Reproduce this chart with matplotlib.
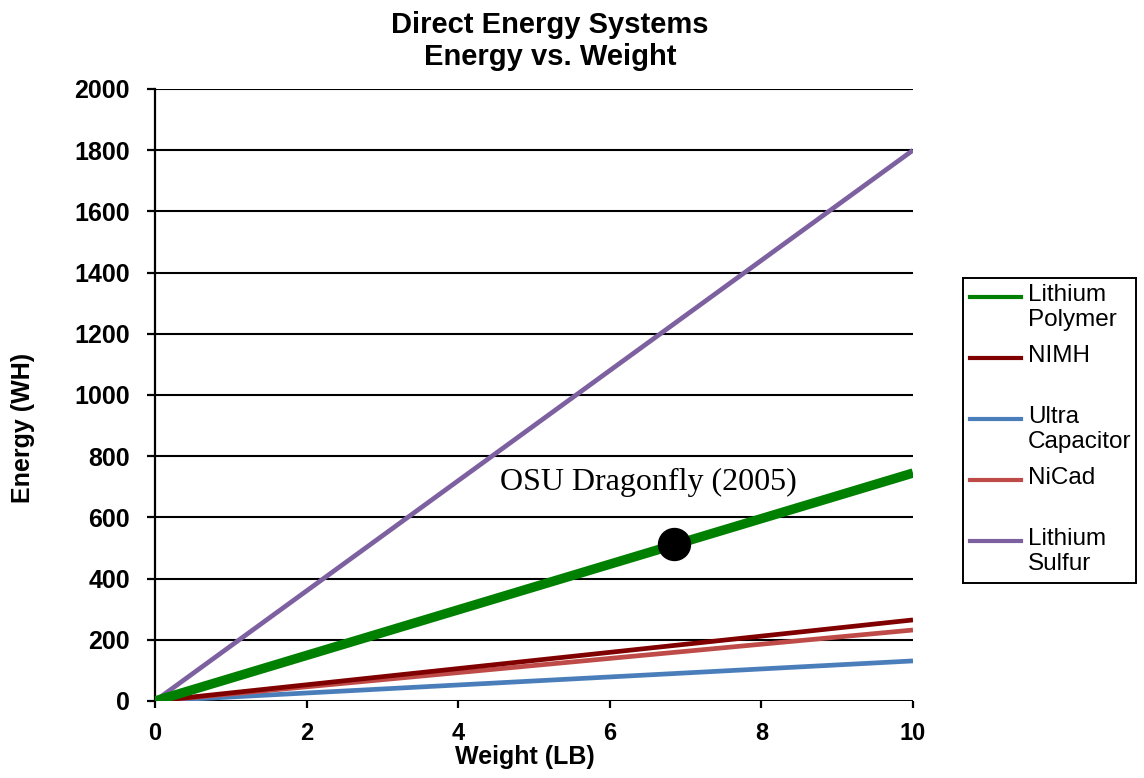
import numpy as np
import matplotlib
matplotlib.use('Agg')
import matplotlib.pyplot as plt

# energy (WH) stored per system at 0 and 10 lb
weights = [0, 10]
series_names = ['Lithium Polymer', 'NIMH', 'Ultra Capacitor', 'NiCad', 'Lithium Sulfur']
legend_labels = ['Lithium\nPolymer', 'NIMH', 'Ultra\nCapacitor', 'NiCad', 'Lithium\nSulfur']
energy_lipo = [0, 745]
energy_nimh = [0, 265]
energy_ultracap = [0, 131]
energy_nicad = [0, 232]
energy_lis = [0, 1800]
series_colors = ['#008000', '#800000', '#4A7EBB', '#BE4B48', '#7D60A0']
series_widths = [6.8, 3.4, 3.4, 3.4, 3.4]

# OSU Dragonfly (2005) data point
dragonfly_weight = 6.85
dragonfly_energy = 513
dragonfly_label = 'OSU Dragonfly (2005)'

y_ticks = np.arange(0, 2001, 200)
x_ticks = np.arange(0, 11, 2)


def main():
    plt.rcParams['font.family'] = ['Liberation Sans', 'DejaVu Sans']
    fig = plt.figure(figsize=(11.44, 7.78), dpi=100)
    ax = fig.add_axes([155 / 1144, 77 / 778, 758 / 1144, 612 / 778])

    all_series = [energy_lipo, energy_nimh, energy_ultracap, energy_nicad, energy_lis]
    # draw thin lines first, then the thick lithium polymer line on top of the reds
    order = [4, 2, 3, 1, 0]
    for i in order:
        ax.plot(weights, all_series[i], color=series_colors[i], lw=series_widths[i],
                solid_capstyle='butt', zorder=3)

    ax.plot(dragonfly_weight, dragonfly_energy, 'o', color='black', markersize=23, zorder=4)
    ax.text(6.51, 690, dragonfly_label, family='Liberation Serif', fontsize=23,
            ha='center', va='baseline')

    ax.set_xlim(0, 10)
    ax.set_ylim(0, 2000)
    ax.set_xticks(x_ticks)
    ax.set_yticks(y_ticks)
    for y in y_ticks[1:]:
        ax.axhline(y, color='black', lw=1.5, zorder=1)
    ax.axhline(0, color='black', lw=2.2, zorder=2)

    for s in ['top', 'right', 'bottom']:
        ax.spines[s].set_visible(False)
    ax.spines['left'].set_linewidth(1.6)
    ax.tick_params(axis='x', direction='out', length=5, width=1.6, pad=10)
    ax.tick_params(axis='y', direction='out', length=6, width=1.6, pad=12)
    for lbl in ax.get_xticklabels():
        lbl.set_fontsize(17)
        lbl.set_fontweight('bold')
    for lbl in ax.get_yticklabels():
        lbl.set_fontsize(18)
        lbl.set_fontweight('bold')

    fig.text(525 / 1144, 1 - 764 / 778, 'Weight (LB)', fontsize=18, fontweight='bold',
             ha='center', va='baseline')
    fig.text(23 / 1144, 1 - 428 / 778, 'Energy (WH)', rotation=90, fontsize=18,
             fontweight='bold', ha='center', va='center')
    fig.text(550 / 1144, 1 - 33 / 778, 'Direct Energy Systems', fontsize=21,
             fontweight='bold', ha='center', va='baseline')
    fig.text(550 / 1144, 1 - 65 / 778, 'Energy vs. Weight', fontsize=21,
             fontweight='bold', ha='center', va='baseline')

    # legend box drawn in its own pixel-scaled axes
    lax = fig.add_axes([963 / 1144, 1 - 583 / 778, 173 / 1144, 305 / 778])
    lax.set_xlim(0, 173)
    lax.set_ylim(305, 0)
    lax.set_xticks([])
    lax.set_yticks([])
    for s in lax.spines.values():
        s.set_linewidth(1.4)
    for i, label in enumerate(legend_labels):
        y = 19 + 61 * i
        lax.plot([7, 58], [y, y], color=series_colors[i], lw=3)
        lax.text(65, y - 13, label, fontsize=17.5, ha='left', va='top', linespacing=1.2)

    fig.savefig('out.png', dpi=100)


if __name__ == "__main__":
    main()
